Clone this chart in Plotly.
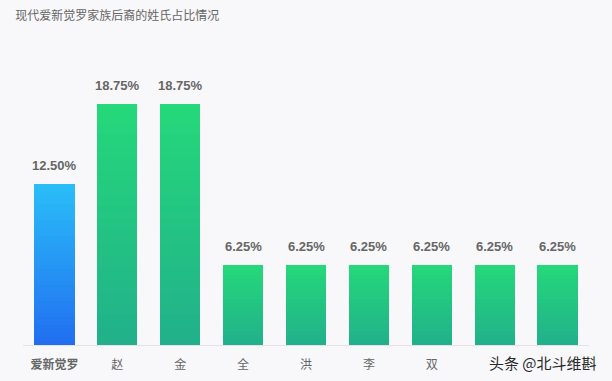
import plotly.graph_objects as go

categories = ["爱新觉罗", "赵", "金", "全", "洪", "李", "双", "肇", "罗"]
values = [12.50, 18.75, 18.75, 6.25, 6.25, 6.25, 6.25, 6.25, 6.25]
value_labels = ["12.50%", "18.75%", "18.75%", "6.25%", "6.25%", "6.25%", "6.25%", "6.25%", "6.25%"]
# last two tick labels are hidden by the watermark in the reference
tick_labels = ["<b>爱新觉罗</b>", "赵", "金", "全", "洪", "李", "双", "", ""]
title_text = "现代爱新觉罗家族后裔的姓氏占比情况"
watermark = "头条 @北斗维斟"

BLUE_TOP, BLUE_BOT = (0x2A, 0xBE, 0xF8), (0x21, 0x6E, 0xF0)
GREEN_TOP, GREEN_BOT = (0x25, 0xD8, 0x7A), (0x21, 0xB0, 0x8B)

def mix(a, b, t):
    return "rgb(%d,%d,%d)" % tuple(round(a[i] + (b[i] - a[i]) * t) for i in range(3))

K = 40
fig = go.Figure()
# stacked slices to render a vertical gradient per bar (bottom -> top)
for k in range(K):
    t = 1 - (k + 0.5) / K  # 1 at bottom, 0 at top
    colors = [mix(BLUE_TOP, BLUE_BOT, t) if i == 0 else mix(GREEN_TOP, GREEN_BOT, t)
              for i in range(len(categories))]
    fig.add_trace(go.Bar(
        x=categories, y=[v / K for v in values],
        marker=dict(color=colors, line=dict(width=0)),
        hoverinfo="skip", showlegend=False,
    ))

for c, v, lab in zip(categories, values, value_labels):
    fig.add_annotation(x=c, y=v, text="<b>%s</b>" % lab, showarrow=False,
                       yanchor="bottom", yshift=9,
                       font=dict(size=13, color="#666666", family="Arial, Liberation Sans, sans-serif"))

fig.add_annotation(xref="paper", yref="paper", x=1.0, y=0, xanchor="right", yanchor="top",
                   xshift=10, yshift=-5, text=watermark, showarrow=False,
                   font=dict(size=15, color="#2a2a2a", family="Noto Sans CJK SC"))

fig.update_layout(
    width=612, height=381,
    margin=dict(l=23, r=23, t=70, b=36),
    paper_bgcolor="#f8f8fa", plot_bgcolor="#f8f8fa",
    barmode="stack", bargap=0.36,
    title=dict(text=title_text, x=0.025, xref="container", xanchor="left", y=0.97, yanchor="top",
               font=dict(size=12, color="#666666", family="Noto Sans CJK SC")),
    xaxis=dict(tickvals=categories, ticktext=tick_labels, showgrid=False, automargin=False,
               showline=True, linecolor="#e3e3e6", linewidth=1,
               ticks="outside", ticklen=9, tickcolor="rgba(0,0,0,0)",
               tickfont=dict(size=12, color="#666666", family="Noto Sans CJK SC")),
    yaxis=dict(range=[0, 21.37], visible=False, showgrid=False, zeroline=False, automargin=False),
)

fig.write_html("out.html", config={"displayModeBar": False},
               post_script="document.body.style.margin='0';document.body.style.background='#f8f8fa';")
